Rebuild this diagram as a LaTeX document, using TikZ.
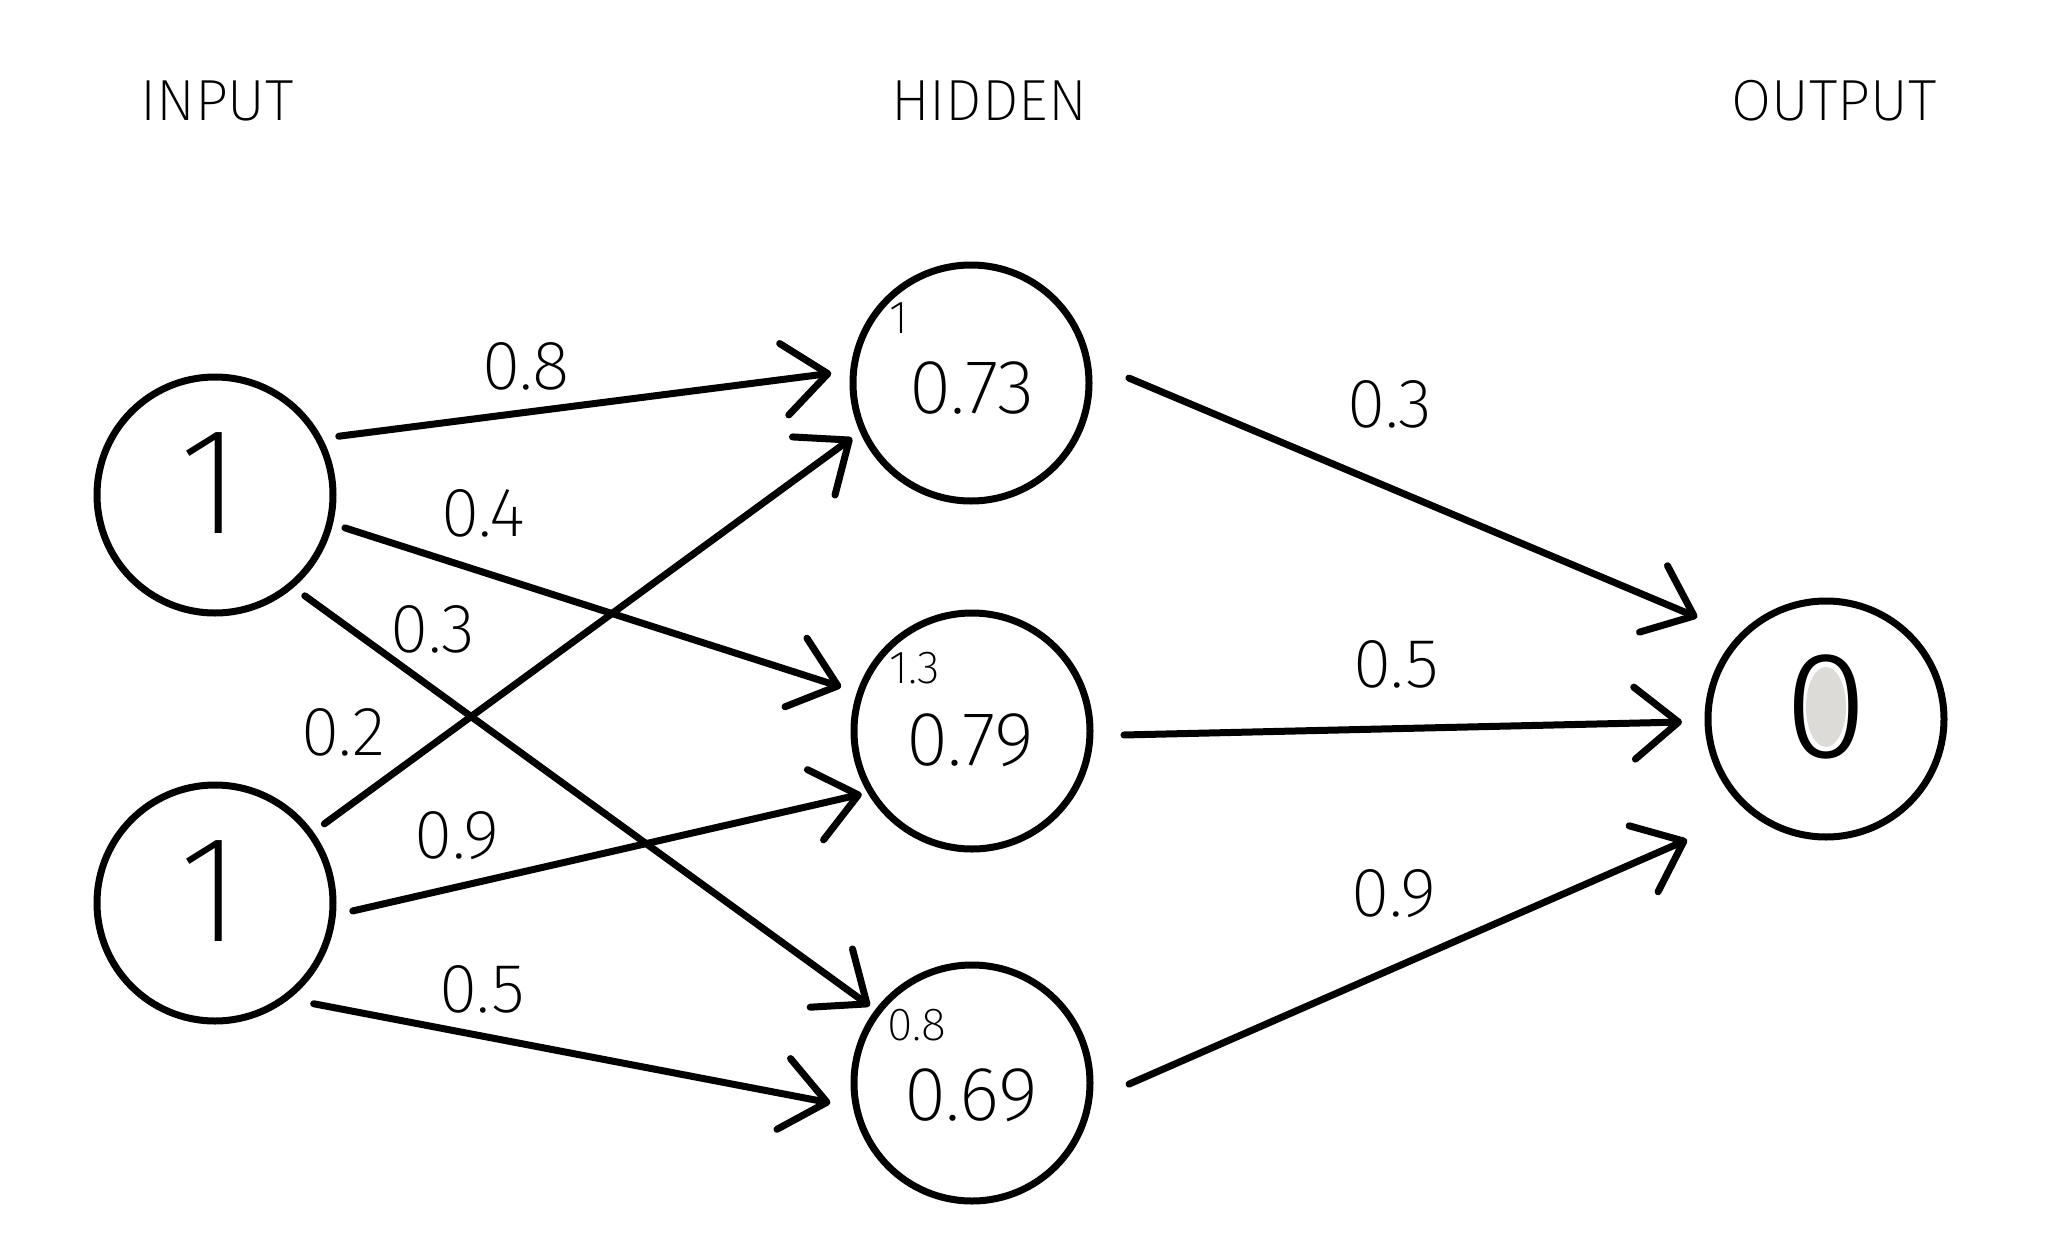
\documentclass[tikz,border=0pt]{standalone}
\usepackage{fontspec}
\setmainfont{Fira Sans ExtraLight}
\newfontfamily\zerofont{Fira Sans Light}
\usetikzlibrary{arrows.meta}
\definecolor{counter}{RGB}{220,219,216}

\begin{document}
\begin{tikzpicture}[x=0.25pt,y=0.25pt,>={Straight Barb[length=11pt,width=18pt,round]},
    neuron/.style={circle,draw,line width=1.75pt,minimum size=59pt,inner sep=0pt},
    link/.style={->,line width=1.75pt,line cap=round},
    title/.style={font=\fontsize{14.5}{17}\selectfont},
    weight/.style={font=\fontsize{17.4}{20}\selectfont},
    big/.style={font=\fontsize{38}{42}\selectfont},
    value/.style={font=\fontsize{19.2}{22}\selectfont},
    net/.style={font=\fontsize{11.6}{13}\selectfont}]
    \useasboundingbox (0,0) rectangle (2048,-1242);

    % layer titles
    \node[title] (tin) at (217,-101) {INPUT};
    \node[title] (thid) at (989,-101) {HIDDEN};
    \node[title] (tout) at (1834,-101) {OUTPUT};

    % neurons
    \node[neuron] (in1) at (215,-495) {};
    \node[neuron] (in2) at (215,-903) {};
    \node[neuron] (h1) at (971,-383) {};
    \node[neuron] (h2) at (972,-731) {};
    \node[neuron] (h3) at (972,-1083) {};
    \node[neuron] (out) at (1826,-719) {};

    % activations
    \node[big] (in1v) at (210,-483) {1};
    \node[big] (in2v) at (210,-891) {1};
    \node[value] (h1v) at (972,-388) {0.73};
    \node[value] (h2v) at (970,-740) {0.79};
    \node[value] (h3v) at (971,-1095) {0.69};
    \node[net] (h1n) at (899,-318) {1};
    \node[net] (h2n) at (915,-668) {1.3};
    \node[net] (h3n) at (917,-1025) {0.8};
    \fill[counter] (1826,-707) ellipse [x radius=20, y radius=40];
    \node[big,font=\fontsize{38}{42}\zerofont] (outv) at (1826,-707) {0};

    % weights
    \draw[link] ([shift={(25.4:137)}]in1.center) -- ([shift={(176:140)}]h1.center);
    \draw[link] ([shift={(-14.2:134)}]in1.center) -- ([shift={(161.4:138)}]h2.center);
    \draw[link] ([shift={(-48.3:135)}]in1.center) -- ([shift={(143:128)}]h3.center);
    \draw[link] ([shift={(35.9:135)}]in2.center) -- ([shift={(204.8:131)}]h1.center);
    \draw[link] ([shift={(-3.3:138)}]in2.center) -- ([shift={(209.8:127)}]h2.center);
    \draw[link] ([shift={(-45.6:141)}]in2.center) -- ([shift={(188:143)}]h3.center);
    \draw[link] ([shift={(1.8:158)}]h1.center) -- ([shift={(141.7:164)}]out.center);
    \draw[link] ([shift={(-1.5:152)}]h2.center) -- ([shift={(181.2:144)}]out.center);
    \draw[link] ([shift={(-0.4:157)}]h3.center) -- ([shift={(221:184)}]out.center);

    \node[weight] (w11) at (526,-366) {0.8};
    \node[weight] (w12) at (483,-513) {0.4};
    \node[weight] (w13) at (433,-629) {0.3};
    \node[weight] (w21) at (343,-732) {0.2};
    \node[weight] (w22) at (457,-836) {0.9};
    \node[weight] (w23) at (482,-989) {0.5};
    \node[weight] (v1) at (1390,-404) {0.3};
    \node[weight] (v2) at (1396,-664) {0.5};
    \node[weight] (v3) at (1394,-894) {0.9};
\end{tikzpicture}
\end{document}
